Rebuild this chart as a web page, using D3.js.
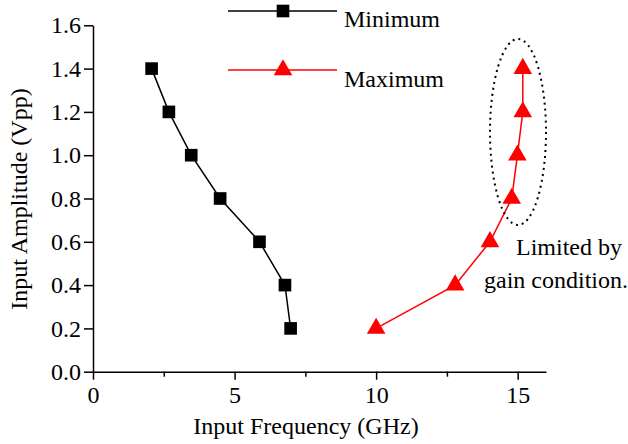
<!DOCTYPE html>
<html>
<head>
<meta charset="utf-8">
<script src="https://cdn.jsdelivr.net/npm/d3@7"></script>
<style>
  body { margin: 0; background: #fff; }
  text { font-family: "Liberation Serif", "Times New Roman", serif !important; font-size: 24px; fill: #000; }
  .axis path, .axis line { stroke: #000; stroke-width: 1.5; }
</style>
</head>
<body>
<svg width="628" height="444"></svg>
<script>
let amplitude = [1.4, 1.2, 1.0, 0.8, 0.6, 0.4, 0.2];
let minFreq = [2.07, 2.68, 3.47, 4.49, 5.88, 6.78, 6.98];
let maxFreq = [15.18, 15.18, 14.99, 14.79, 14.02, 12.79, 10.0];

let xMajor = [0, 5, 10, 15];
let xMinor = [2.5, 7.5, 12.5];
let yTicks = [0, 0.2, 0.4, 0.6, 0.8, 1.0, 1.2, 1.4, 1.6];

let svg = d3.select("svg");

let xScale = d3.scaleLinear().domain([0, 16]).range([93, 546]);
let yScale = d3.scaleLinear().domain([0, 1.6]).range([371.7, 25.3]);

// axes
let xAxis = d3.axisBottom(xScale).tickValues(xMajor).tickSize(8).tickSizeOuter(0).tickPadding(6).tickFormat(d3.format("d"));
svg.append("g")
  .attr("class", "axis")
  .attr("transform", "translate(0," + yScale(0) + ")")
  .call(xAxis);

let xMinorAxis = d3.axisBottom(xScale).tickValues(xMinor).tickSize(5).tickSizeOuter(0).tickFormat("");
svg.append("g")
  .attr("class", "axis")
  .attr("transform", "translate(0," + yScale(0) + ")")
  .call(xMinorAxis)
  .select(".domain").remove();

let yAxis = d3.axisLeft(yScale).tickValues(yTicks).tickSize(9).tickSizeOuter(0).tickPadding(3).tickFormat(d3.format(".1f"));
svg.append("g")
  .attr("class", "axis")
  .attr("transform", "translate(" + xScale(0) + ",0)")
  .call(yAxis);

// axis titles
svg.append("text")
  .attr("x", 306)
  .attr("y", 434)
  .attr("text-anchor", "middle")
  .text("Input Frequency (GHz)");

svg.append("text")
  .attr("transform", "translate(27,199) rotate(-90)")
  .attr("text-anchor", "middle")
  .text("Input Amplitude (Vpp)");

// series
let minData = amplitude.map((a, i) => ({ x: minFreq[i], y: a }));
let maxData = amplitude.map((a, i) => ({ x: maxFreq[i], y: a }));

let line = d3.line().x(d => xScale(d.x)).y(d => yScale(d.y));

svg.append("path")
  .datum(minData)
  .attr("d", line)
  .attr("fill", "none")
  .attr("stroke", "#000")
  .attr("stroke-width", 1.5);

svg.append("path")
  .datum(maxData)
  .attr("d", line)
  .attr("fill", "none")
  .attr("stroke", "#ff0000")
  .attr("stroke-width", 1.5);

let square = d3.symbol().type(d3.symbolSquare).size(160);
let triangle = d3.symbol().type(d3.symbolTriangle).size(150);

svg.selectAll(".sq")
  .data(minData)
  .enter()
  .append("path")
  .attr("class", "sq")
  .attr("d", square)
  .attr("transform", d => "translate(" + xScale(d.x) + "," + yScale(d.y) + ")")
  .attr("fill", "#000");

svg.selectAll(".tri")
  .data(maxData)
  .enter()
  .append("path")
  .attr("class", "tri")
  .attr("d", triangle)
  .attr("transform", d => "translate(" + xScale(d.x) + "," + yScale(d.y) + ")")
  .attr("fill", "#ff0000");

// legend
let legend = [
  { name: "Minimum", color: "#000", sym: square, y: 11, ty: 27 },
  { name: "Maximum", color: "#ff0000", sym: triangle, y: 70, ty: 87 }
];
legend.forEach(l => {
  svg.append("line")
    .attr("x1", 228).attr("x2", 337)
    .attr("y1", l.y).attr("y2", l.y)
    .attr("stroke", l.color)
    .attr("stroke-width", 1.5);
  svg.append("path")
    .attr("d", l.sym)
    .attr("transform", "translate(283," + l.y + ")")
    .attr("fill", l.color);
  svg.append("text")
    .attr("x", 344)
    .attr("y", l.ty)
    .text(l.name);
});

// annotation
svg.append("ellipse")
  .attr("cx", 518)
  .attr("cy", 132)
  .attr("rx", 28)
  .attr("ry", 93)
  .attr("fill", "none")
  .attr("stroke", "#000")
  .attr("stroke-width", 2)
  .attr("stroke-dasharray", "2,4");

svg.append("text")
  .attr("x", 569)
  .attr("y", 255)
  .attr("text-anchor", "middle")
  .text("Limited by");

svg.append("text")
  .attr("x", 556)
  .attr("y", 288)
  .attr("text-anchor", "middle")
  .text("gain condition.");
</script>
</body>
</html>
